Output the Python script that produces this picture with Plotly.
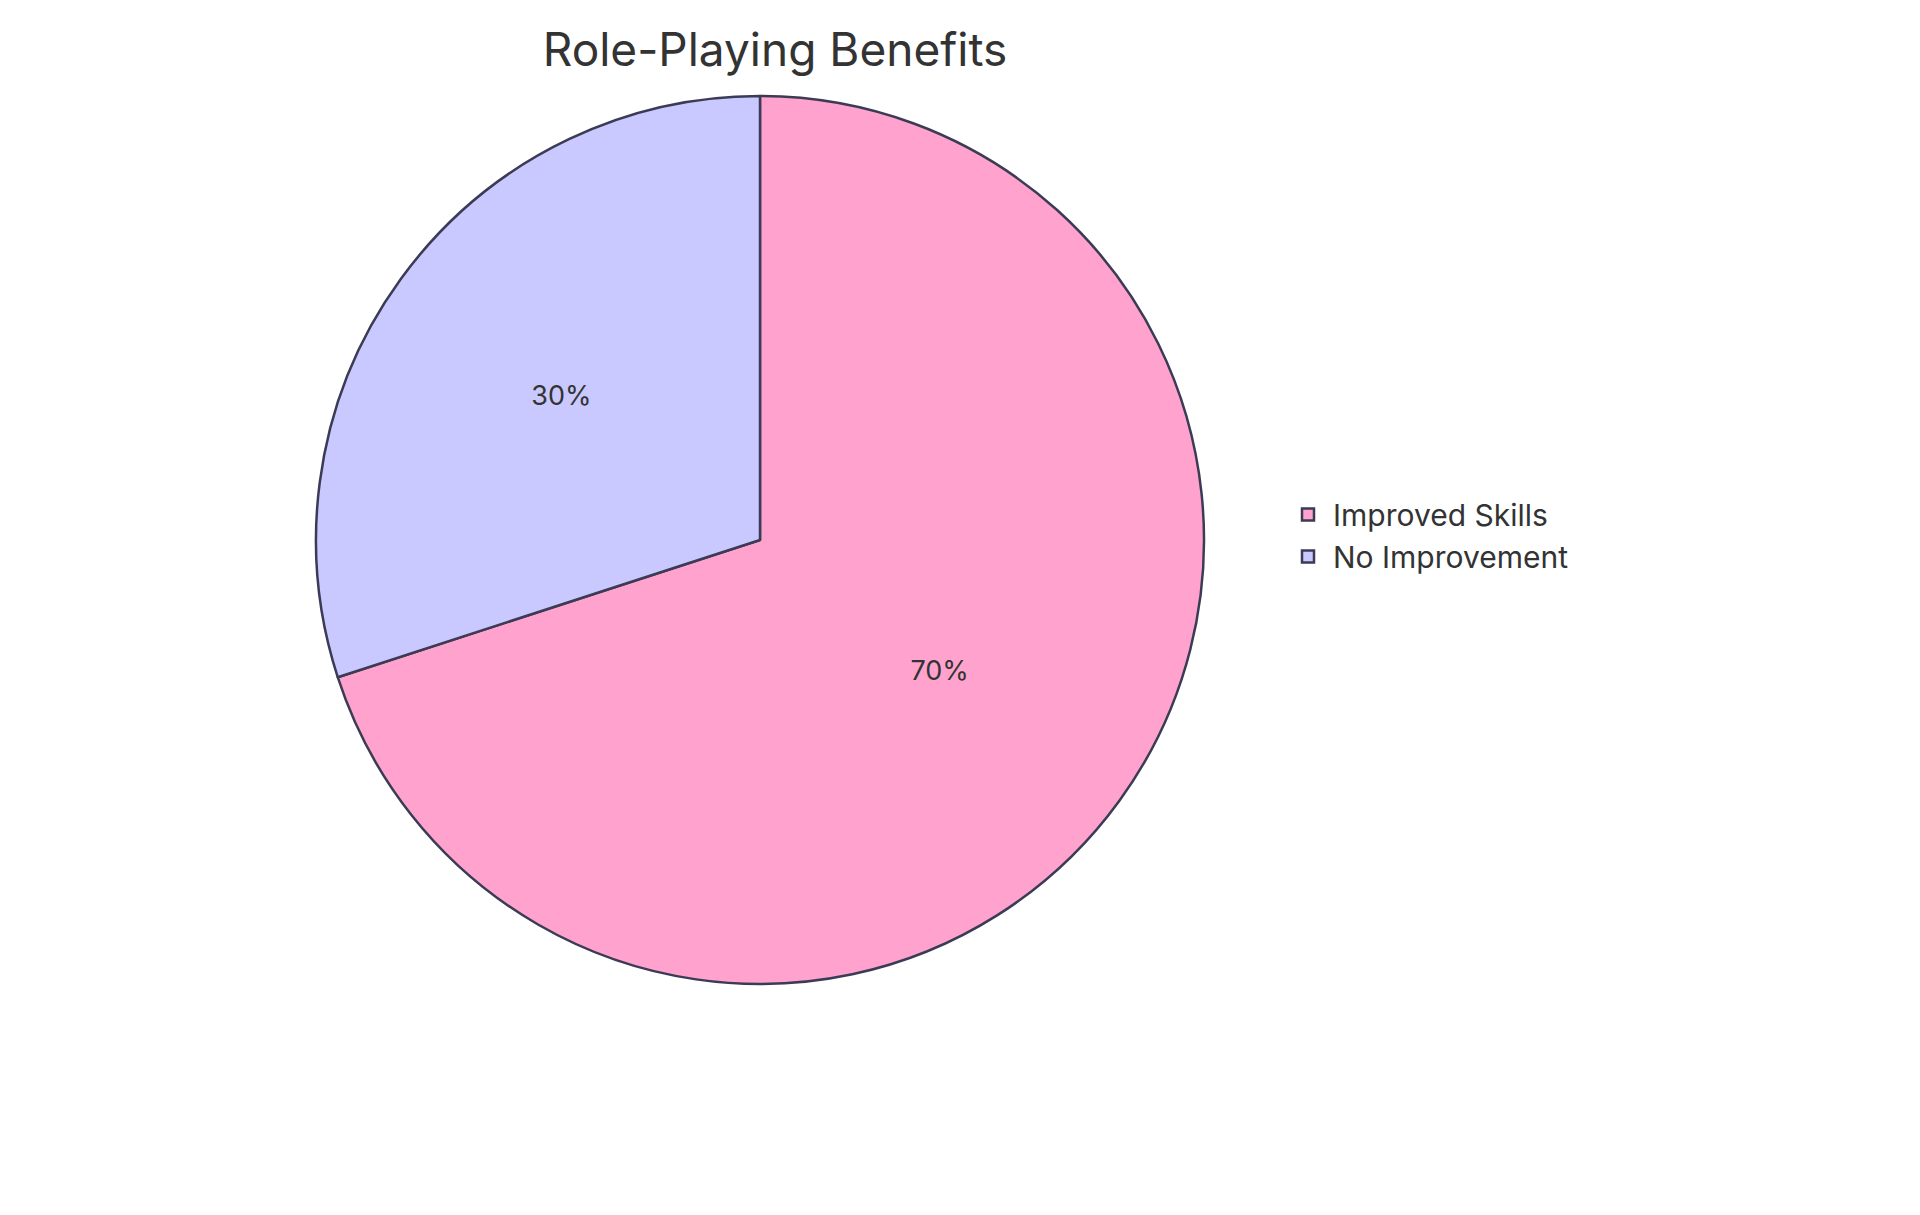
import plotly.graph_objects as go

labels = ["Improved Skills", "No Improvement"]
values = [70, 30]
colors = ["#FFA3CE", "#C9C9FF"]

fig = go.Figure(go.Pie(
    labels=labels, values=values, sort=False, direction="clockwise", rotation=0,
    marker=dict(colors=colors, line=dict(color="#3B3B55", width=2.5)),
    textinfo="percent", textposition="inside", insidetextorientation="horizontal",
    textfont=dict(size=27, color="#333333"),
    domain=dict(x=[308/1920, 1196/1920], y=[0, 1]),
    hoverinfo="label+percent",
))
fig.update_layout(
    width=1920, height=1215,
    margin=dict(l=0, r=0, t=88, b=239),
    paper_bgcolor="white",
    font=dict(family="Inter, Open Sans, sans-serif", color="#333333"),
    title=dict(text="Role-Playing Benefits", x=767/1920, xanchor="center",
               y=1-42/1215, yanchor="middle", font=dict(size=46, color="#333333")),
    legend=dict(x=1275/1920, xanchor="left", y=0.505, yanchor="middle",
                font=dict(size=30, color="#333333"), itemwidth=40, tracegroupgap=0),
    showlegend=True,
)
fig.write_html("out.html")
